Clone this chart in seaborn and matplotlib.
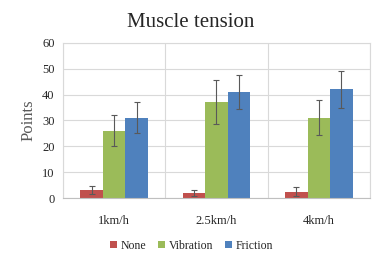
import matplotlib
matplotlib.use('Agg')
from matplotlib import pyplot as plt
import pandas as pd
import seaborn as sns

# Muscle tension scores by speed and stimulus
speeds = ['1km/h', '2.5km/h', '4km/h']
conditions = ['None', 'Vibration', 'Friction']
none_vals = [3.0, 2.0, 2.5]
vibration_vals = [26.0, 37.0, 31.0]
friction_vals = [31.0, 41.0, 42.0]
none_err = [1.5, 1.2, 1.6]
vibration_err = [6.0, 8.5, 6.8]
friction_err = [6.0, 6.5, 7.0]

colors = ['#C0504D', '#9BBB59', '#4F81BD']

df = pd.DataFrame({
    'speed': speeds * 3,
    'condition': [c for c in conditions for _ in speeds],
    'points': none_vals + vibration_vals + friction_vals,
    'err': none_err + vibration_err + friction_err,
})

sns.set_style('white')
plt.rcParams['font.family'] = ['Liberation Serif', 'DejaVu Serif']

fig = plt.figure(figsize=(3.81, 2.63), dpi=100)
ax = fig.add_axes([0.165, 0.247, 0.806, 0.59])

sns.barplot(data=df, x='speed', y='points', hue='condition',
            order=speeds, hue_order=conditions, palette=colors,
            width=0.66, gap=0, errorbar=None, saturation=1, ax=ax,
            linewidth=0, legend=True)

# error bars from bar centres
for patch, (_, row) in zip(ax.patches, df.iterrows()):
    cx = patch.get_x() + patch.get_width() / 2
    ax.errorbar(cx, patch.get_height(), yerr=row['err'], fmt='none',
                ecolor='#595959', elinewidth=0.8, capsize=2.2,
                capthick=0.8)

ax.set_ylim(0, 60)
ax.set_yticks(range(0, 61, 10))
ax.set_xlim(-0.5, 2.5)
ax.set_xticks([-0.5, 0.5, 1.5, 2.5], minor=False)
ax.grid(True, color='#D9D9D9', linewidth=0.8)
ax.set_axisbelow(True)
ax.set_xticks([0, 1, 2], minor=True)
ax.set_xticklabels(speeds, minor=True)
ax.set_xticklabels([])
ax.tick_params(axis='x', which='both', length=0, labelsize=9,
               colors='#262626', pad=12)
ax.tick_params(axis='y', length=0, labelsize=9, colors='#262626', pad=6)

for side in ['top', 'right', 'left']:
    ax.spines[side].set_color('#D9D9D9')
    ax.spines[side].set_linewidth(0.8)
ax.spines['bottom'].set_color('#BFBFBF')
ax.spines['bottom'].set_linewidth(0.8)

ax.set_xlabel('')
ax.set_ylabel('Points', fontsize=12, color='#595959', labelpad=4)
fig.suptitle('Muscle tension', fontsize=15, x=0.5, y=0.95, va='top')

ax.legend(loc='upper center', bbox_to_anchor=(0.42, -0.2), ncol=3,
          frameon=False, fontsize=8.5, handlelength=0.6, handleheight=0.6,
          handletextpad=0.3, columnspacing=1.0)

fig.savefig('out.png', dpi=100)
